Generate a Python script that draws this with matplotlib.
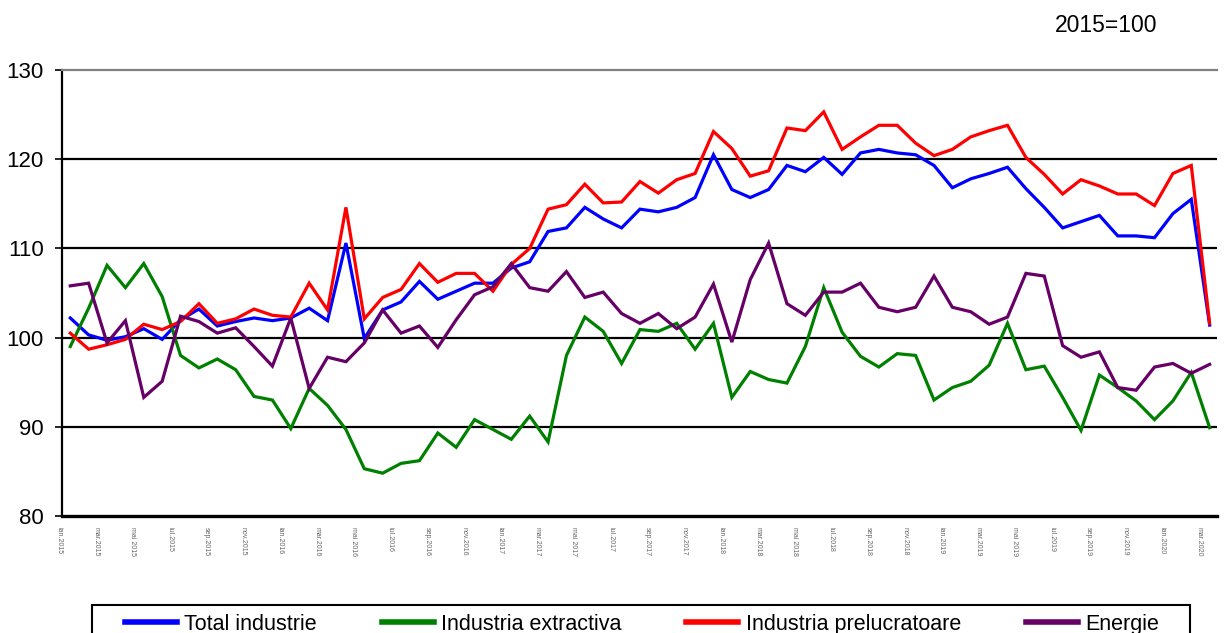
import matplotlib.pyplot as plt
import matplotlib.transforms as mtransforms
from matplotlib.patches import Rectangle
import numpy as np

plt.rcParams['font.family'] = ['Liberation Sans', 'DejaVu Sans']

# indici lunari, ian.2015 - mar.2020
total_industrie = [102.2, 100.3, 99.7, 100.1, 101.0, 99.8, 102.0, 103.2, 101.3, 101.8,
                   102.2, 101.9, 102.2, 103.3, 101.9, 110.6, 99.9, 103.1, 104.0, 106.3,
                   104.3, 105.2, 106.1, 106.1, 107.8, 108.5, 111.9, 112.3, 114.6, 113.3,
                   112.3, 114.4, 114.1, 114.6, 115.7, 120.5, 116.6, 115.7, 116.6, 119.3,
                   118.6, 120.2, 118.3, 120.7, 121.1, 120.7, 120.5, 119.3, 116.8, 117.8,
                   118.4, 119.1, 116.7, 114.6, 112.3, 113.0, 113.7, 111.4, 111.4, 111.2,
                   113.9, 115.5, 101.4]
industria_extractiva = [99.0, 103.3, 108.1, 105.6, 108.3, 104.6, 98.0, 96.6, 97.6, 96.4,
                        93.4, 93.0, 89.8, 94.3, 92.4, 89.7, 85.3, 84.8, 85.9, 86.2,
                        89.3, 87.7, 90.8, 89.7, 88.6, 91.2, 88.3, 98.0, 102.3, 100.7,
                        97.1, 100.9, 100.7, 101.6, 98.7, 101.6, 93.3, 96.2, 95.3, 94.9,
                        99.0, 105.6, 100.6, 97.9, 96.7, 98.2, 98.0, 93.0, 94.4, 95.1,
                        96.9, 101.6, 96.4, 96.8, 93.3, 89.6, 95.8, 94.4, 92.9, 90.8,
                        92.9, 96.1, 89.9]
industria_prelucratoare = [100.5, 98.7, 99.2, 99.8, 101.5, 100.9, 101.8, 103.8, 101.6, 102.1,
                           103.2, 102.5, 102.3, 106.1, 103.1, 114.6, 102.1, 104.5, 105.4, 108.3,
                           106.2, 107.2, 107.2, 105.2, 108.2, 110.0, 114.4, 114.9, 117.2, 115.1,
                           115.2, 117.5, 116.2, 117.7, 118.4, 123.1, 121.2, 118.1, 118.7, 123.5,
                           123.2, 125.3, 121.1, 122.5, 123.8, 123.8, 121.8, 120.4, 121.1, 122.5,
                           123.2, 123.8, 120.2, 118.3, 116.1, 117.7, 117.0, 116.1, 116.1, 114.8,
                           118.4, 119.3, 101.6]
energie = [105.8, 106.1, 99.4, 101.9, 93.3, 95.1, 102.4, 101.8, 100.5, 101.1,
           99.0, 96.8, 102.2, 94.3, 97.8, 97.3, 99.4, 103.1, 100.5, 101.3,
           98.9, 102.0, 104.8, 105.7, 108.3, 105.6, 105.2, 107.4, 104.5, 105.1,
           102.7, 101.6, 102.7, 101.0, 102.3, 106.0, 99.5, 106.5, 110.6, 103.8,
           102.5, 105.1, 105.1, 106.1, 103.4, 102.9, 103.4, 106.9, 103.4, 102.9,
           101.5, 102.3, 107.2, 106.9, 99.1, 97.8, 98.4, 94.4, 94.1, 96.7,
           97.1, 96.0, 97.0]

luni = ['ian.', 'mar.', 'mai ', 'iul.', 'sep.', 'nov.']
ani = ['2015', '2016', '2017', '2018', '2019', '2020']
etichete = [l + a for a in ani for l in luni][:32]

serii = [
    (total_industrie, 'Total industrie', '#0000FF'),
    (industria_extractiva, 'Industria extractiva', '#008000'),
    (industria_prelucratoare, 'Industria prelucratoare', '#FF0000'),
    (energie, 'Energie', '#660066'),
]

fig = plt.figure(figsize=(12.29, 6.33), dpi=100)
ax = fig.add_axes([62 / 1229, 117 / 633, 1155 / 1229, 446 / 633])

x = np.arange(len(total_industrie))
for valori, nume, culoare in serii:
    ax.plot(x, valori, color=culoare, lw=2.3, label=nume, solid_joinstyle='miter')

ax.set_ylim(80, 130)
ax.set_yticks([80, 90, 100, 110, 120, 130])
ax.set_xlim(-0.45, len(x) - 1 + 0.4)
ax.set_xticks(x[::2])
ax.set_xticklabels(etichete, rotation=270, fontsize=5, color='#666666')
ax.tick_params(axis='x', length=0, pad=8)
ax.tick_params(axis='y', length=5, width=1.2, labelsize=16, pad=8, direction='out')
offset = mtransforms.ScaledTranslation(-11 / 100, 0, fig.dpi_scale_trans)
for lbl in ax.get_xticklabels():
    lbl.set_transform(lbl.get_transform() + offset)

for v in [90, 100, 110, 120]:
    ax.axhline(v, color='black', lw=1.6, zorder=0)

ax.spines['right'].set_visible(False)
ax.spines['top'].set_color('#808080')
ax.spines['top'].set_linewidth(1.6)
ax.spines['left'].set_linewidth(1.6)
ax.spines['bottom'].set_linewidth(2.4)

fig.text(1157 / 1229, 1 - 25 / 633, '2015=100', ha='right', va='center', fontsize=16.5)

# chenarul legendei (taiat jos, ca in original)
fig.patches.append(Rectangle((92 / 1229, -0.05), 1098 / 1229, 0.05 + 28 / 633,
                             transform=fig.transFigure, fill=False,
                             edgecolor='black', lw=1.5, clip_on=False))

leg = fig.legend(loc='upper left', bbox_to_anchor=(125 / 1229, 1 - 614 / 633 - 0.05, 1034 / 1229, 0.05),
                 mode='expand', ncol=4, fontsize=15.5, frameon=False,
                 handlelength=2.4, handletextpad=0.35, borderaxespad=0, borderpad=0)
for h in leg.get_lines():
    h.set_linewidth(4)

fig.savefig('out.png', dpi=100)
